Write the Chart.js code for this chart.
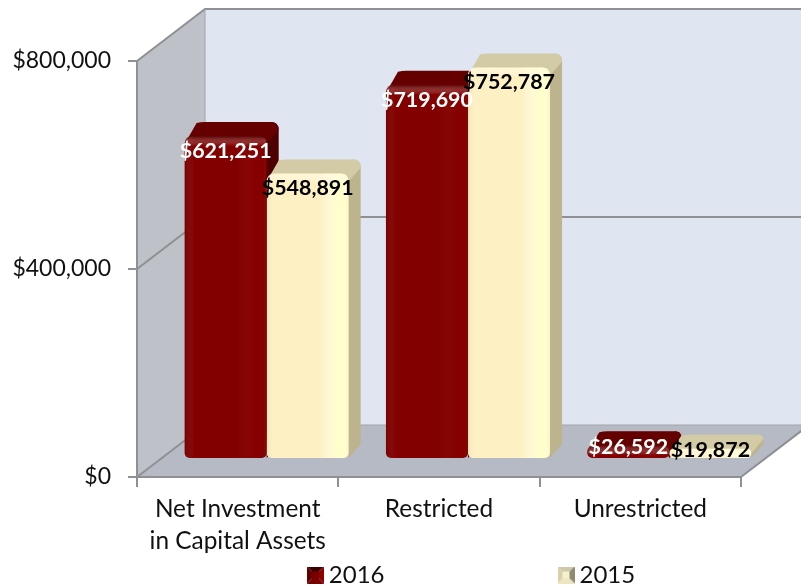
<!DOCTYPE html>
<html>
<head>
<meta charset="utf-8">
<style>html,body{margin:0;padding:0;background:#fff}canvas{display:block}</style>
<script src="https://cdn.jsdelivr.net/npm/chart.js@4"></script>
</head>
<body>
<canvas id="c" width="801" height="588"></canvas>
<script>
const categories = [["Net Investment","in Capital Assets"],"Restricted","Unrestricted"];
const seriesNames = ["2016","2015"];
const values2016 = [621251,719690,26592];
const values2015 = [548891,752787,19872];
const yTicks = [0,400000,800000];
const FONT = "Lato, 'Open Sans', sans-serif";
const wallDepth = {x:68,y:-52};
const barShift = {x:29,y:-18};
const barDepth = {x:12,y:-14};
const looks = {
  "2016":{front:"#820000",top:"#640000",side:"#4e0000",edgeL:"rgba(60,0,0,.15)",edgeR:"rgba(170,0,0,.08)",bevel:"rgba(70,0,0,.7)",label:"#fff",swatch:["#7a0000","#3a0000","#600000","#8c0000","#7a0000"]},
  "2015":{front:"#fdf0c2",top:"#d3caa6",side:"#bdb38d",edgeL:"rgba(225,205,150,.35)",edgeR:"rgba(255,255,205,.9)",bevel:"rgba(255,250,215,.8)",label:"#000",swatch:["#f5f0cf","#cfc8a8","#d8d0a8","#8f8a70","#eee6c0"]}
};
const shape=(ctx,pts,fill)=>{ctx.beginPath();pts.forEach((p,i)=>i?ctx.lineTo(p[0],p[1]):ctx.moveTo(p[0],p[1]));ctx.closePath();ctx.fillStyle=fill;ctx.fill();};
function swatch(c){
  const s=document.createElement('canvas');s.width=s.height=17;const g=s.getContext('2d');
  shape(g,[[0,0],[17,0],[8.5,8.5]],c[1]);shape(g,[[0,0],[0,17],[8.5,8.5]],c[2]);
  shape(g,[[17,0],[17,17],[8.5,8.5]],c[3]);shape(g,[[0,17],[17,17],[8.5,8.5]],c[4]);
  g.fillStyle=c[0];g.fillRect(5,5,7,7);
  return s;
}
function drawDepth(ctx,b,look){
  const l=b.x-b.width/2,r=b.x+b.width/2,t=b.y,bt=b.base,dx=barDepth.x,dy=barDepth.y;
  const rad=Math.min(8,(bt-t)/2);
  ctx.beginPath();ctx.moveTo(r-rad,t);ctx.lineTo(r-rad+dx,t+dy);ctx.quadraticCurveTo(r+dx,t+dy,r+dx,t+dy+rad);
  ctx.lineTo(r+dx,bt+dy);ctx.lineTo(r,bt);ctx.closePath();ctx.fillStyle=look.side;ctx.fill();
  ctx.beginPath();ctx.moveTo(l,t+rad);ctx.lineTo(l+dx,t+dy+1);ctx.quadraticCurveTo(l+dx+4,t+dy,l+dx+8,t+dy);
  ctx.lineTo(r+dx-rad,t+dy);ctx.quadraticCurveTo(r+dx,t+dy,r+dx,t+dy+rad);ctx.lineTo(r,t+rad);ctx.closePath();
  ctx.fillStyle=look.top;ctx.fill();
}
const scene={
  id:'scene',
  beforeLayout(chart){
    const lg=chart.legend;
    if(lg&&!lg._wrapped){const f=lg.fit;lg.fit=function(){f.call(this);this.height=30;};lg._wrapped=true;}
  },
  afterLayout(chart){
    const lg=chart.legend,pad=chart.options.plugins.legend.labels.padding;
    lg.left+=104;lg.right+=104;
    lg.top=563-pad;lg.bottom=chart.height;
  },
  beforeDraw(chart){
    const {ctx,chartArea:a,scales:{y}}=chart;const dx=wallDepth.x,dy=wallDepth.y;
    ctx.save();
    shape(ctx,[[a.left+dx,a.top+dy],[a.right+dx,a.top+dy],[a.right+dx,a.bottom+dy],[a.left+dx,a.bottom+dy]],"#dfe5f1");
    shape(ctx,[[a.left,a.top],[a.left+dx,a.top+dy],[a.left+dx,a.bottom+dy],[a.left,a.bottom]],"#bec2c8");
    shape(ctx,[[a.left,a.bottom],[a.left+dx,a.bottom+dy],[a.right+dx,a.bottom+dy],[a.right,a.bottom]],"#b6bac5");
    ctx.strokeStyle="#8f9093";ctx.lineWidth=2;ctx.beginPath();
    y.ticks.forEach(t=>{
      const p=y.getPixelForValue(t.value);
      ctx.moveTo(a.left,p);ctx.lineTo(a.left+dx,p+dy);
      if(t.value!==0)ctx.lineTo(a.right+dx,p+dy);
    });
    ctx.moveTo(a.right,a.bottom);ctx.lineTo(a.right+dx,a.bottom+dy);
    ctx.stroke();
    ctx.strokeStyle="#a3a6ab";ctx.lineWidth=1;ctx.beginPath();
    ctx.moveTo(a.left+dx,a.top+dy);ctx.lineTo(a.left+dx,a.bottom+dy);ctx.lineTo(a.right+dx,a.bottom+dy);ctx.stroke();
    ctx.restore();
  },
  beforeDatasetsDraw(chart){
    const ctx=chart.ctx;ctx.save();ctx.translate(barShift.x,barShift.y);
    chart.data.datasets.forEach((d,i)=>{chart.getDatasetMeta(i).data.forEach(b=>drawDepth(ctx,b,looks[d.label]));});
  },
  afterDatasetDraw(chart,args){
    const ctx=chart.ctx,look=looks[chart.data.datasets[args.index].label];
    args.meta.data.forEach(b=>{
      const l=b.x-b.width/2,r=b.x+b.width/2,h=b.base-b.y;
      const g=ctx.createLinearGradient(l,0,r,0);
      g.addColorStop(0,look.edgeL);g.addColorStop(.12,"rgba(255,255,255,0)");
      g.addColorStop(.65,"rgba(255,255,255,0)");g.addColorStop(.85,look.edgeR);g.addColorStop(.96,look.edgeR);g.addColorStop(1,"rgba(255,255,255,0)");
      ctx.save();ctx.beginPath();ctx.roundRect(l,b.y,b.width,h,Math.min(7,h/2));ctx.clip();
      ctx.fillStyle=g;ctx.fillRect(l,b.y,b.width,h);
      const v=ctx.createLinearGradient(0,b.y,0,b.y+10);
      v.addColorStop(0,look.bevel);v.addColorStop(1,"rgba(255,255,255,0)");
      ctx.fillStyle=v;ctx.fillRect(l,b.y,b.width,Math.min(10,h));
      ctx.restore();
    });
  },
  afterDatasetsDraw(chart){
    const ctx=chart.ctx;
    ctx.font="bold 21.4px "+FONT;ctx.textAlign="center";ctx.textBaseline="middle";
    chart.data.datasets.forEach((d,i)=>{
      ctx.fillStyle=looks[d.label].label;
      chart.getDatasetMeta(i).data.forEach((b,j)=>{
        const drop=Math.min(15,(b.base-b.y)*0.15);
        ctx.fillText("$"+d.data[j].toLocaleString("en-US"),b.x,b.y+drop);
      });
    });
    ctx.restore();
  }
};
new Chart(document.getElementById('c'),{
  type:'bar',
  data:{labels:categories,datasets:[
    {label:seriesNames[0],data:values2016,backgroundColor:looks["2016"].front,borderRadius:{topLeft:8,topRight:8,bottomLeft:5,bottomRight:5},borderSkipped:false},
    {label:seriesNames[1],data:values2015,backgroundColor:looks["2015"].front,borderRadius:{topLeft:8,topRight:8,bottomLeft:5,bottomRight:5},borderSkipped:false}
  ]},
  options:{
    responsive:false,animation:false,
    layout:{padding:{left:0,right:60,top:61,bottom:2}},
    datasets:{bar:{categoryPercentage:.815,barPercentage:1,clip:40}},
    plugins:{
      tooltip:{enabled:false},
      legend:{position:'bottom',
        labels:{font:{family:FONT,size:24},color:"#111",usePointStyle:true,boxWidth:3,boxHeight:17,padding:180,
          generateLabels(chart){return chart.data.datasets.map((d,i)=>({text:d.label,datasetIndex:i,pointStyle:swatch(looks[d.label].swatch),hidden:false,lineWidth:0,fontColor:"#111"}));}
        }}
    },
    scales:{
      x:{offset:true,
        border:{color:"#8f9093",width:2},
        grid:{drawOnChartArea:false,color:"#8f9093",lineWidth:2,tickLength:10,offset:true},
        ticks:{font:{family:FONT,size:24.4,lineHeight:1.31},color:"#111",padding:6,maxRotation:0,autoSkip:false},
        afterFit(s){s.height=79;}
      },
      y:{min:0,max:800000,
        border:{color:"#8f9093",width:2},
        grid:{drawOnChartArea:false,color:"#8f9093",lineWidth:2,tickLength:9},
        afterBuildTicks(s){s.ticks=yTicks.map(v=>({value:v}));},
        ticks:{font:{family:FONT,size:23},color:"#111",padding:17,callback:v=>"$"+v.toLocaleString("en-US")},
        afterFit(s){s.width=137;}
      }
    }
  },
  plugins:[scene]
});
</script>
</body>
</html>
